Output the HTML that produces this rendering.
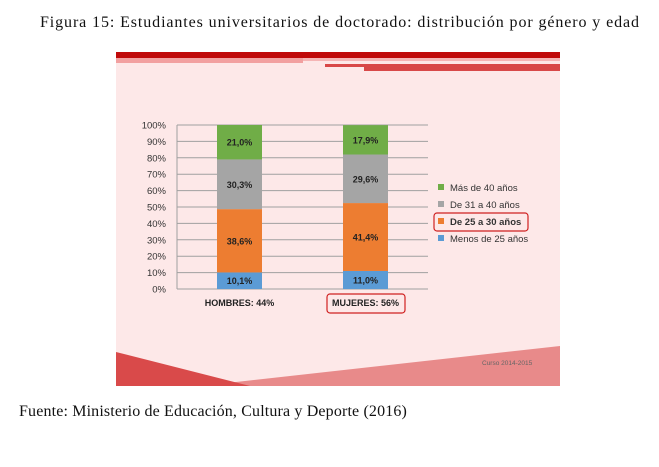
<!DOCTYPE html>
<html><head><meta charset="utf-8"><style>
body{margin:0;background:#fff;width:659px;height:467px;overflow:hidden;position:relative;font-family:"Liberation Sans",sans-serif}
.t{position:absolute;font-family:"Liberation Serif",serif;font-size:16px;color:#111;white-space:nowrap}
</style></head><body>
<div class="t" style="left:40px;top:14px;letter-spacing:0.9px">Figura 15: Estudiantes universitarios de doctorado: distribución por género y edad</div>
<div class="t" style="left:19px;top:403px;letter-spacing:0.15px">Fuente: Ministerio de Educación, Cultura y Deporte (2016)</div>
<svg width="659" height="467" style="position:absolute;left:0;top:0" font-family="Liberation Sans, sans-serif">
<rect x="116" y="52" width="444" height="334" fill="#fde8e8"/>
<rect x="116" y="52" width="444" height="6" fill="#c00a0a"/>
<rect x="116" y="58" width="187" height="5" fill="#f2a0a0"/>
<rect x="303" y="58" width="257" height="3" fill="#f5b5b5"/>
<rect x="325" y="64" width="235" height="3" fill="#d84848"/>
<rect x="364" y="66" width="196" height="5" fill="#d84848"/>
<polygon points="560,346 560,386 200,386" fill="#e88a8a"/>
<polygon points="116,352 250,386 116,386" fill="#d94a4a"/>
<text x="482" y="365" font-size="6.5" fill="#666">Curso 2014-2015</text>
<g id="plot"></g>
</svg>
<script>
const categories=["HOMBRES: 44%","MUJERES: 56%"];
const seriesNames=["Menos de 25 años","De 25 a 30 años","De 31 a 40 años","Más de 40 años"];
const menos25=[10.1,11.0];
const de25a30=[38.6,41.4];
const de31a40=[30.3,29.6];
const mas40=[21.0,17.9];
const ticks=[0,10,20,30,40,50,60,70,80,90,100];
const colors=["#5b9bd5","#ed7d31","#a5a5a5","#70ad47"];
const NS="http://www.w3.org/2000/svg";
const g=document.getElementById('plot');
const y=v=>289-v*1.64;
const xC=[239.5,365.5];
function mk(t,a,p){const e=document.createElementNS(NS,t);for(const k in a)e.setAttribute(k,a[k]);(p||g).appendChild(e);return e;}
ticks.forEach(t=>{
 const l=mk('line',{x1:177,x2:428,y1:y(t),y2:y(t),stroke:'#a0a0a0','stroke-width':1});
 
 
 const tx=mk('text',{x:166,y:y(t)+3.5,'font-size':9.5,'text-anchor':'end',fill:'#333'});tx.textContent=t+'%';
 
 
});
mk('line',{x1:177,x2:177,y1:y(0),y2:y(100),stroke:'#a0a0a0'});
const series=[menos25,de25a30,de31a40,mas40];
categories.forEach((c,i)=>{
 let base=0;
 series.forEach((s,j)=>{
  const v=s[i];
  const r=mk('rect',{x:xC[i]-22.5,width:45,y:y(base+v),height:v*1.64,fill:colors[j]});
  
  
  const tx=mk('text',{x:xC[i],y:y(base+v/2)+3.5,'font-size':9,'font-weight':'bold','text-anchor':'middle',fill:'#222'});
  tx.textContent=v.toFixed(1).replace('.',',')+'%';
  
  
  base+=v;
 });
 const cl=mk('text',{x:xC[i],y:306,'font-size':9,'font-weight':'bold','text-anchor':'middle',fill:'#222'});
 cl.textContent=c;
 
 
});
const mb=mk('rect',{x:327,y:294,width:78,height:19,rx:3,fill:'none',stroke:'#d02020','stroke-width':1.2});


const legY=[239,222,205,188];
seriesNames.forEach((n,j)=>{
 mk('rect',{x:438,y:legY[j]-4,width:6,height:6,fill:colors[j]});
 const tx=mk('text',{x:450,y:legY[j]+3,'font-size':9.5,fill:'#333','font-weight':j==1?'bold':'normal'});
 tx.textContent=n;
 
 
});
const lb=mk('rect',{x:434,y:213,width:94,height:18,rx:3,fill:'none',stroke:'#d02020','stroke-width':1.2});


</script>
</body></html>
